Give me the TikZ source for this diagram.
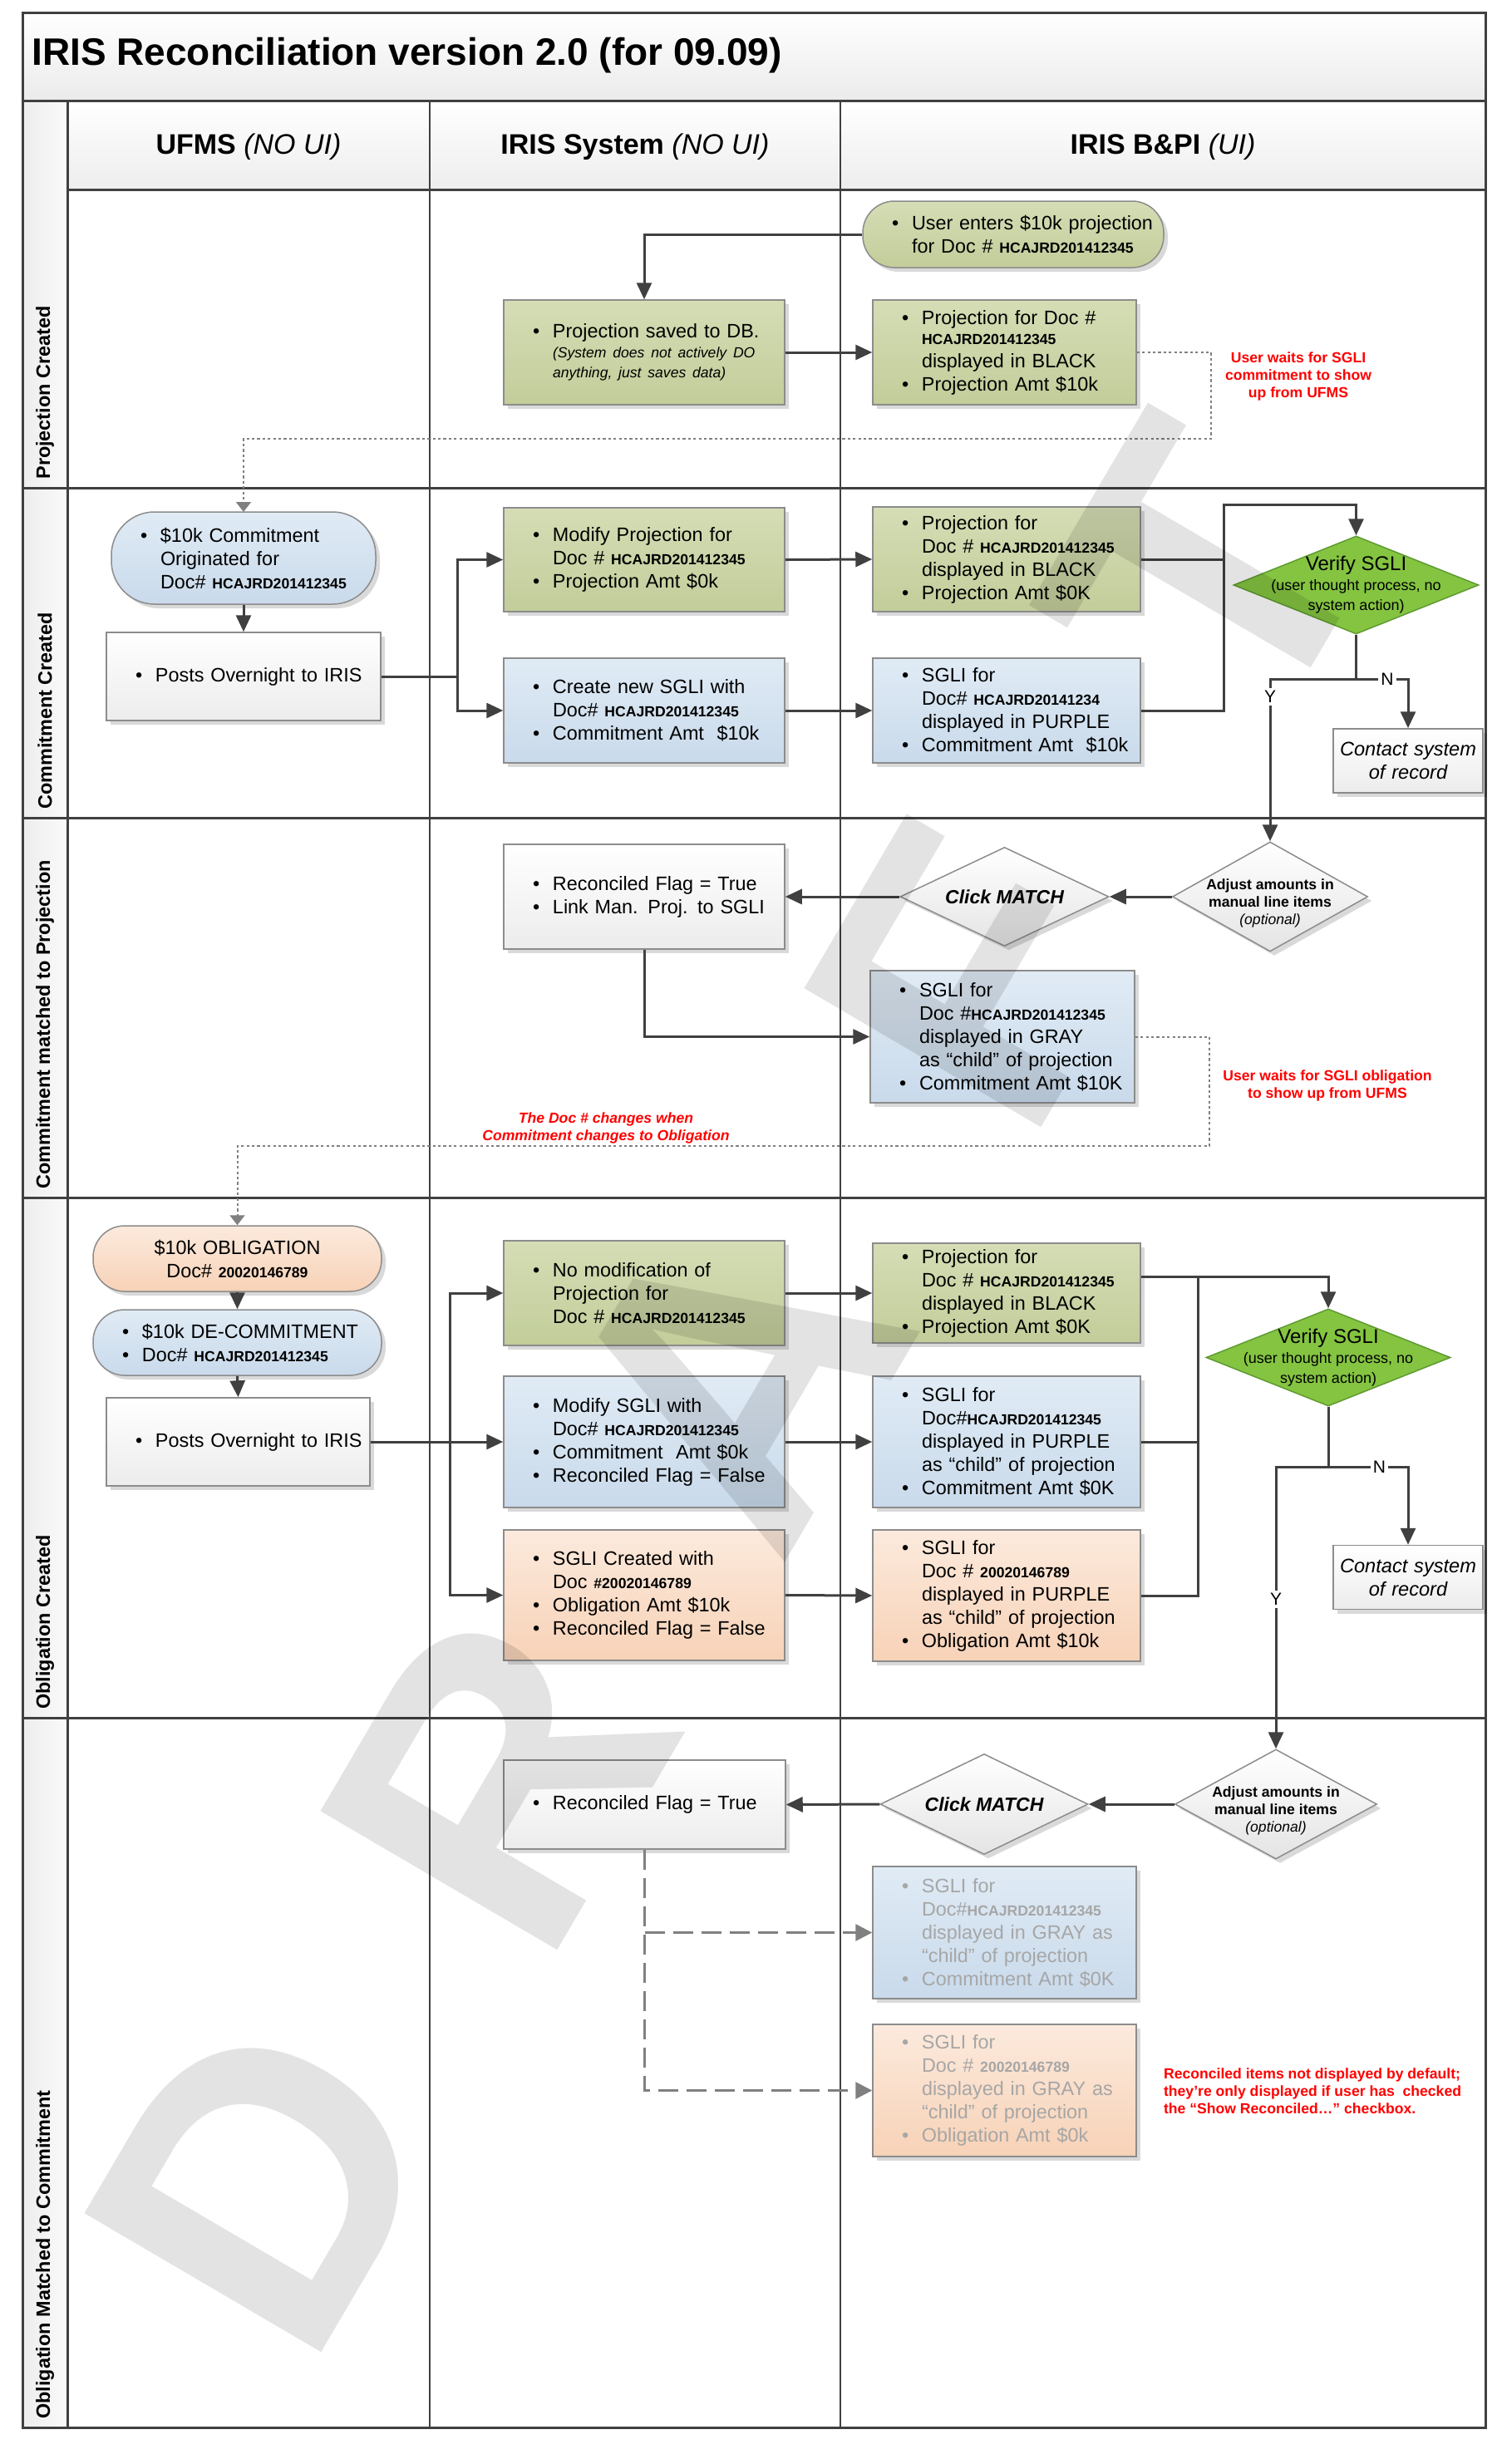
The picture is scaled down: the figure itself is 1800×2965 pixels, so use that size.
\documentclass[tikz,border=0pt]{standalone}
\usepackage{fontspec}
\setmainfont{Liberation Sans}
\usepackage{xcolor}
\usepackage{tikz}
\usetikzlibrary{arrows.meta, shapes.geometric, shadows}

\definecolor{frameline}{HTML}{404040}
\definecolor{conn}{HTML}{404040}
\definecolor{boxline}{HTML}{8C8C8C}
\definecolor{grnA}{HTML}{D5DDB5}
\definecolor{grnB}{HTML}{C2CD9A}
\definecolor{bluA}{HTML}{E0EBF5}
\definecolor{bluB}{HTML}{C9DAEB}
\definecolor{orgA}{HTML}{FCEADD}
\definecolor{orgB}{HTML}{F7D2B7}
\definecolor{wtB}{HTML}{ECECEC}
\definecolor{dmB}{HTML}{E4E4E4}
\definecolor{verigreen}{HTML}{84C441}
\definecolor{veriline}{HTML}{5F9A30}
\definecolor{faded}{HTML}{A6A6A6}
\definecolor{waitgray}{HTML}{808080}

\newcommand{\bul}{\hspace*{17.5pt}\makebox[12pt][l]{\textbullet}}
\newcommand{\indt}{\hspace*{29.5pt}}
\newcommand{\docno}[1]{{\fontsize{8.8}{10}\selectfont\bfseries #1}}
\newcommand{\smtxt}{\fontsize{8.8}{10}\selectfont}

\begin{document}
\begin{tikzpicture}[x=0.5pt, y=-0.5pt,
	boxbase/.style={rectangle, draw=boxline, line width=0.75pt, inner xsep=0pt, inner ysep=2pt, align=left, font=\fontsize{11.7}{14}\selectfont, drop shadow={shadow xshift=2.5pt, shadow yshift=-2.5pt, fill=black, opacity=0.15}},
	projbox/.style={boxbase, top color=grnA, bottom color=grnB},
	sglibox/.style={boxbase, top color=bluA, bottom color=bluB},
	oblbox/.style={boxbase, top color=orgA, bottom color=orgB},
	plainbox/.style={boxbase, top color=white, bottom color=wtB},
	decide/.style={diamond, draw=boxline, line width=0.75pt, inner sep=0pt, top color=white, bottom color=dmB, drop shadow={shadow xshift=2.5pt, shadow yshift=-2.5pt, fill=black, opacity=0.15}},
	verifyd/.style={diamond, draw=veriline, line width=0.75pt, fill=verigreen, inner sep=0pt},
	dtext/.style={align=center, inner sep=0pt},
	plainline/.style={draw=conn, line width=1.5pt},
	flow/.style={draw=conn, line width=1.5pt, -{Triangle[length=10pt, width=9pt]}},
	waitline/.style={draw=waitgray, line width=1pt, dash pattern=on 1.6pt off 1.6pt, -{Triangle[length=6pt, width=9pt]}},
	dashflow/.style={draw=waitgray, line width=1.5pt, dash pattern=on 12pt off 5pt, -{Triangle[length=10pt, width=10pt]}},
	rednote/.style={text=red, align=center, font=\fontsize{8.8}{10.5}\selectfont\bfseries},
	rowlabel/.style={rotate=90, anchor=west, inner sep=0pt, font=\fontsize{11.7}{14}\selectfont\bfseries},
	yn/.style={fill=white, inner sep=1.5pt, font=\fontsize{10.5}{12}\selectfont},
	wmark/.style={text=black, text opacity=0.11, rotate=59.6, inner sep=0pt, font=\fontsize{240}{240}\selectfont\bfseries}]

	\def\xL{27};
	\def\xS{81};
	\def\xA{517};
	\def\xB{1011};
	\def\xR{1787};
	\def\yT{16};
	\def\yH{122};
	\def\yC{228};
	\def\yE{2921};

	\useasboundingbox (0,0) rectangle (1800,2965);

	\begin{scope}
		\shade[top color=white, bottom color=black!8] (\xL,\yT) rectangle (\xR,\yH);
		\shade[top color=white, bottom color=black!7] (\xS,\yH) rectangle (\xR,\yC);
		\shade[left color=black!7, right color=black!2] (\xL,\yH) rectangle (\xS,\yE);
	\end{scope}

	\begin{scope}[frameline, line width=1.5pt]
		\draw (\xL,\yT) rectangle (\xR,\yE);
		\draw (\xL,\yH) -- (\xR,\yH);
		\draw (\xS,\yC) -- (\xR,\yC);
		\draw (\xL,587) -- (\xR,587);
		\draw (\xL,984) -- (\xR,984);
		\draw (\xL,1441) -- (\xR,1441);
		\draw (\xL,2067) -- (\xR,2067);
		\draw (\xS,\yH) -- (\xS,\yE);
	\end{scope}
	\begin{scope}[frameline, line width=0.75pt]
		\draw (\xA,\yH) -- (\xA,\yE);
		\draw (\xB,\yH) -- (\xB,\yE);
	\end{scope}

	\node[anchor=west, inner sep=0pt, font=\fontsize{23}{28}\selectfont\bfseries] (title) at (38,67) {IRIS Reconciliation version 2.0 (for 09.09)};
	\node[font=\fontsize{17}{20}\selectfont] (hdufms) at (299,177) {\textbf{UFMS} \textit{(NO UI)}};
	\node[font=\fontsize{17}{20}\selectfont] (hdsys) at (764,177) {\textbf{IRIS System} \textit{(NO UI)}};
	\node[font=\fontsize{17}{20}\selectfont] (hdui) at (1399,177) {\textbf{IRIS B\&PI} \textit{(UI)}};

	\node[rowlabel] (lblproj) at (54,577) {Projection Created};
	\node[rowlabel] (lblcommit) at (54,974) {Commitment Created};
	\node[rowlabel] (lblmatch) at (54,1431) {Commitment matched to Projection};
	\node[rowlabel] (lblobl) at (54,2057) {Obligation Created};
	\node[rowlabel] (lbloblmatch) at (54,2911) {Obligation Matched to Commitment};

	% projection created
	\node[projbox, rounded corners=19pt, text width=181pt, minimum height=40pt] (userin) at (1219,282) {\bul User enters \$10k projection\\ \indt for Doc \# \docno{HCAJRD201412345}};
	\node[projbox, text width=169pt, minimum height=63pt] (projsaved) at (775,424) {\bul Projection saved to DB.\\[-2pt] \indt{\smtxt\itshape (System does not actively DO}\\[-2pt] \indt{\smtxt\itshape anything, just saves data)}};
	\node[projbox, text width=158.5pt, minimum height=63pt] (projblack) at (1208.5,424) {\bul Projection for Doc \#\\[-2pt] \indt\docno{HCAJRD201412345}\\ \indt displayed in BLACK\\ \bul Projection Amt \$10k};
	\node[rednote] (waitnote1) at (1562,453) {User waits for SGLI\\commitment to show\\up from UFMS};

	\draw[flow] (userin.west) -| (projsaved.north);
	\draw[flow] (projsaved.east) -- (projblack.west);
	\coordinate (wait1) at (1457,528);
	\draw[waitline] (projblack.east) -| (wait1) -| (293,616);

	% commitment created
	\node[sglibox, rounded corners=26pt, text width=159pt, minimum height=55.5pt] (commit) at (293,671.5) {\bul \$10k Commitment\\ \indt Originated for\\ \indt Doc\# \docno{HCAJRD201412345}};
	\node[plainbox, text width=165pt, minimum height=53pt] (posts1) at (293,814) {\bul Posts Overnight to IRIS};
	\node[projbox, text width=169pt, minimum height=62.5pt] (modproj) at (775,673.5) {\bul Modify Projection for\\ \indt Doc \# \docno{HCAJRD201412345}\\ \bul Projection Amt \$0k};
	\node[sglibox, text width=169pt, minimum height=63pt] (newsgli) at (775,855) {\bul Create new SGLI with\\ \indt Doc\# \docno{HCAJRD201412345}\\ \bul Commitment Amt \ \$10k};
	\node[projbox, text width=161pt, minimum height=63pt] (projblack2) at (1211,673) {\bul Projection for\\ \indt Doc \# \docno{HCAJRD201412345}\\ \indt displayed in BLACK\\ \bul Projection Amt \$0K};
	\node[sglibox, text width=161pt, minimum height=63pt] (sglipurple1) at (1211,855) {\bul SGLI for\\ \indt Doc\# \docno{HCAJRD20141234}\\ \indt displayed in PURPLE\\ \bul Commitment Amt \ \$10k};
	\node[verifyd, minimum width=147.5pt, minimum height=59pt] (verify1) at (1631.5,704) {};
	\node[dtext, font=\fontsize{9}{12}\selectfont] (verify1txt) at (verify1) {{\fontsize{12}{14}\selectfont Verify SGLI}\\(user thought process, no\\system action)};
	\node[plainbox, align=center, text width=90pt, minimum height=38.5pt, font=\fontsize{11.8}{14}\selectfont\itshape] (contact1) at (1694,915.5) {Contact system\\of record};

	\draw[flow] (commit.south) -- (posts1.north);
	\coordinate (split1) at (550,814);
	\draw[plainline] (posts1.east) -- (split1);
	\draw[flow] (split1) |- (modproj.west);
	\draw[flow] (split1) |- (newsgli.west);
	\draw[flow] (modproj.east) -- (projblack2.west);
	\draw[flow] (newsgli.east) -- (sglipurple1.west);
	\coordinate (merge1) at (1472,607);
	\draw[plainline] (projblack2.east) -- (projblack2.east -| merge1);
	\draw[flow] (sglipurple1.east) -| (merge1) -| (verify1.north);
	\coordinate (fork1) at (1631.5,817);
	\draw[plainline] (verify1.south) -- (fork1);
	\draw[flow] (fork1) -| node[yn, pos=0.3] {N} (contact1.north);

	% commitment matched to projection
	\node[decide, minimum width=117.5pt, minimum height=66pt] (adjust1) at (1528,1079) {};
	\node[dtext, font=\fontsize{8.8}{10.5}\selectfont] (adjust1txt) at (1528,1087) {\textbf{Adjust amounts in}\\\textbf{manual line items}\\\textit{(optional)}};
	\node[decide, minimum width=125.5pt, minimum height=59.5pt] (click1) at (1208.5,1079) {};
	\node[dtext, font=\fontsize{11.5}{14}\selectfont\bfseries\itshape] (click1txt) at (click1) {Click MATCH};
	\node[plainbox, text width=169pt, minimum height=63pt] (recon1) at (775,1079) {\bul Reconciled Flag = True\\ \bul Link Man. Proj. to SGLI};
	\node[sglibox, text width=159pt, minimum height=79.5pt] (sgligray1) at (1206,1247.5) {\bul SGLI for\\ \indt Doc \#\docno{HCAJRD201412345}\\ \indt displayed in GRAY\\ \indt as “child” of projection\\ \bul Commitment Amt \$10K};
	\node[rednote] (waitnote2) at (1597,1306) {User waits for SGLI obligation\\to show up from UFMS};
	\node[rednote, font=\fontsize{8.8}{10.5}\selectfont\bfseries\itshape] (docnote) at (729,1357) {The Doc \# changes when\\Commitment changes to Obligation};

	\draw[flow] (fork1) -| node[yn, pos=0.555] {Y} (adjust1.north);
	\draw[flow] (adjust1.west) -- (click1.east);
	\draw[flow] (click1.west) -- (recon1.east);
	\draw[flow] (recon1.south) |- (sgligray1.west);
	\coordinate (wait2) at (1455,1379);

	% obligation created
	\node[oblbox, rounded corners=19pt, align=center, text width=173.5pt, minimum height=39.5pt] (obl) at (285.5,1514.5) {\$10k OBLIGATION\\Doc\# \docno{20020146789}};
	\node[sglibox, rounded corners=19pt, text width=173.5pt, minimum height=39.5pt] (decommit) at (285.5,1615.5) {\bul \$10k DE-COMMITMENT\\ \bul Doc\# \docno{HCAJRD201412345}};
	\node[plainbox, text width=158.5pt, minimum height=53pt] (posts2) at (286.5,1735) {\bul Posts Overnight to IRIS};
	\node[projbox, text width=169pt, minimum height=63pt] (nomod) at (775,1556) {\bul No modification of\\ \indt Projection for\\ \indt Doc \# \docno{HCAJRD201412345}};
	\node[sglibox, text width=169pt, minimum height=79pt] (modsgli) at (775,1735) {\bul Modify SGLI with\\ \indt Doc\# \docno{HCAJRD201412345}\\ \bul Commitment \ Amt \$0k\\ \bul Reconciled Flag = False};
	\node[oblbox, text width=169pt, minimum height=78.5pt] (sglicreated) at (775,1919.5) {\bul SGLI Created with\\ \indt Doc \docno{\#20020146789}\\ \bul Obligation Amt \$10k\\ \bul Reconciled Flag = False};
	\node[projbox, text width=161pt, minimum height=60pt] (projblack3) at (1211,1556) {\bul Projection for\\ \indt Doc \# \docno{HCAJRD201412345}\\ \indt displayed in BLACK\\ \bul Projection Amt \$0K};
	\node[sglibox, text width=161pt, minimum height=79pt] (sglipurple2) at (1211,1735) {\bul SGLI for\\ \indt Doc\#\docno{HCAJRD201412345}\\ \indt displayed in PURPLE\\ \indt as “child” of projection\\ \bul Commitment Amt \$0K};
	\node[oblbox, text width=161pt, minimum height=79pt] (sglipurple3) at (1211,1920) {\bul SGLI for\\ \indt Doc \# \docno{20020146789}\\ \indt displayed in PURPLE\\ \indt as “child” of projection\\ \bul Obligation Amt \$10k};
	\node[verifyd, minimum width=147pt, minimum height=58.5pt] (verify2) at (1598,1633.5) {};
	\node[dtext, font=\fontsize{9}{12}\selectfont] (verify2txt) at (verify2) {{\fontsize{12}{14}\selectfont Verify SGLI}\\(user thought process, no\\system action)};
	\node[plainbox, align=center, text width=90pt, minimum height=38.5pt, font=\fontsize{11.8}{14}\selectfont\itshape] (contact2) at (1694,1898) {Contact system\\of record};

	\draw[waitline] (sgligray1.east) -| (wait2) -| (obl.north);
	\draw[flow] (obl.south) -- (decommit.north);
	\draw[flow] (decommit.south) -- (posts2.north);
	\coordinate (split2) at (541,1735);
	\draw[flow] (posts2.east) -- (modsgli.west);
	\draw[flow] (split2) |- (nomod.west);
	\draw[flow] (split2) |- (sglicreated.west);
	\draw[flow] (nomod.east) -- (projblack3.west);
	\draw[flow] (modsgli.east) -- (sglipurple2.west);
	\draw[flow] (sglicreated.east) -- (sglipurple3.west);
	\coordinate (merge2) at (1441,1536);
	\draw[plainline] (projblack3.east |- merge2) -- (merge2);
	\draw[plainline] (sglipurple2.east) -- (sglipurple2.east -| merge2);
	\draw[flow] (sglipurple3.east) -| (merge2) -| (verify2.north);
	\coordinate (fork2) at (1598,1765);
	\draw[plainline] (verify2.south) -- (fork2);
	\draw[flow] (fork2) -| node[yn, pos=0.32] {N} (contact2.north);

	% obligation matched to commitment
	\node[decide, minimum width=121.5pt, minimum height=66pt] (adjust2) at (1535,2171) {};
	\node[dtext, font=\fontsize{8.8}{10.5}\selectfont] (adjust2txt) at (1535,2179) {\textbf{Adjust amounts in}\\\textbf{manual line items}\\\textit{(optional)}};
	\node[decide, minimum width=125pt, minimum height=60.5pt] (click2) at (1184,2171) {};
	\node[dtext, font=\fontsize{11.5}{14}\selectfont\bfseries\itshape] (click2txt) at (click2) {Click MATCH};
	\node[plainbox, text width=169.5pt, minimum height=53.5pt] (recon2) at (775.5,2171.5) {\bul Reconciled Flag = True};
	\node[sglibox, text=faded, text width=158.5pt, minimum height=79.5pt] (faded1) at (1208.5,2325.5) {\bul SGLI for\\ \indt Doc\#\docno{HCAJRD201412345}\\ \indt displayed in GRAY as\\ \indt “child” of projection\\ \bul Commitment Amt \$0K};
	\node[oblbox, text=faded, text width=158.5pt, minimum height=79.5pt] (faded2) at (1208.5,2515.5) {\bul SGLI for\\ \indt Doc \# \docno{20020146789}\\ \indt displayed in GRAY as\\ \indt “child” of projection\\ \bul Obligation Amt \$0k};
	\node[rednote, anchor=west, align=left] (shownote) at (1393,2516) {Reconciled items not displayed by default;\\they’re only displayed if user has \ checked\\the “Show Reconciled…” checkbox.};

	\draw[flow] (fork2) -| node[yn, pos=0.735] {Y} (adjust2.north);
	\draw[flow] (adjust2.west) -- (click2.east);
	\draw[flow] (click2.west) -- (recon2.east);
	\draw[dashflow] (recon2.south) |- (faded2.west);
	\draw[dashflow] (recon2.south |- faded1.west) -- (faded1.west);

	% watermark
	\node[wmark] (wmD) at (316,2625) {D};
	\node[wmark] (wmR) at (600,2141) {R};
	\node[wmark] (wmA) at (884,1657) {A};
	\node[wmark] (wmF) at (1168,1174) {F};
	\node[wmark] (wmT) at (1452,690) {T};
\end{tikzpicture}
\end{document}
